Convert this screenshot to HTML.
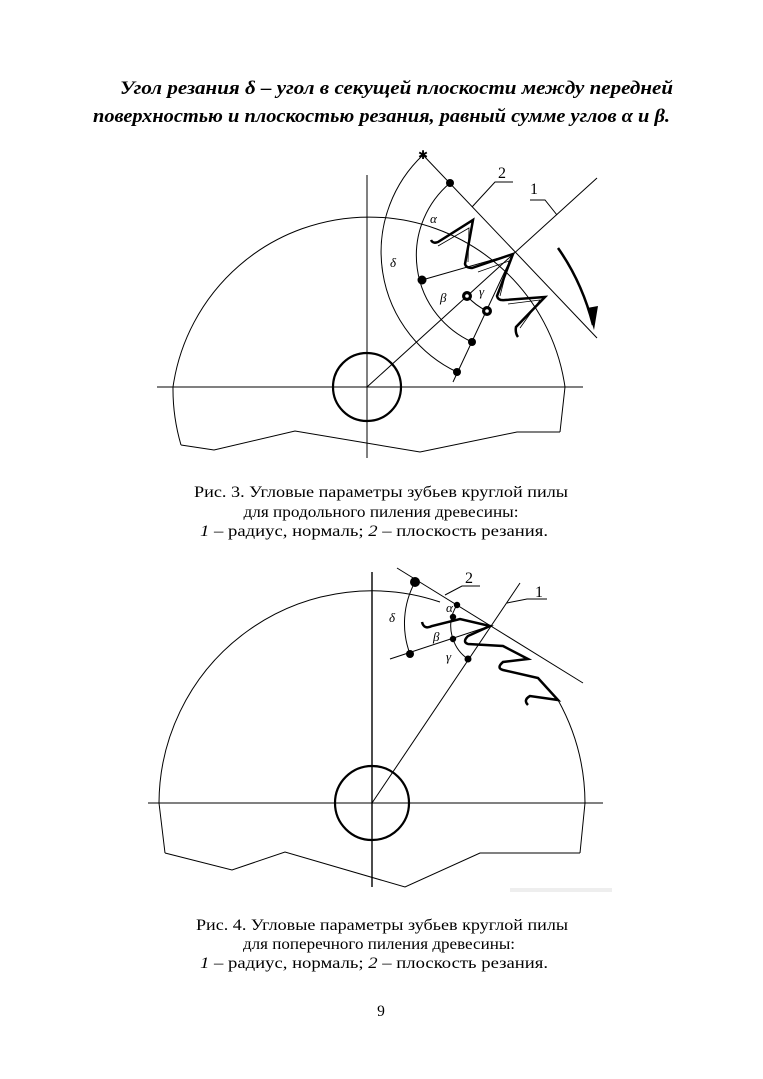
<!DOCTYPE html>
<html><head><meta charset="utf-8"><style>
html,body{margin:0;padding:0;background:#fff;}
svg{display:block}
.t{font-family:"Liberation Serif",serif;fill:#000}
</style></head><body>
<svg width="763" height="1079" viewBox="0 0 763 1079" xmlns="http://www.w3.org/2000/svg">
<g class="t" font-weight="bold" font-style="italic" font-size="19">
<text x="120" y="94" textLength="553" lengthAdjust="spacingAndGlyphs">Угол резания δ – угол в секущей плоскости между передней</text>
<text x="93" y="122" textLength="577" lengthAdjust="spacingAndGlyphs">поверхностью и плоскостью резания, равный сумме углов α и β.</text>
</g>

<!-- Fig 3 -->
<g fill="none" stroke="#000" stroke-width="1">
<line x1="367" y1="175" x2="367" y2="458"/>
<line x1="157" y1="387" x2="583" y2="387"/>
<circle cx="367" cy="387" r="34" stroke-width="2.2"/>
<path d="M181,445 A198,198 0 0 1 173,387 A198,198 0 0 1 565,387 L560,432"/>
<path d="M181,445 L214,450 L295,431 L420,452 L517,432 L560,432"/>
<line x1="367" y1="387" x2="597" y2="178"/>
<line x1="423" y1="155" x2="597" y2="338"/>
<path d="M530,200 L545,200 L557,215"/>
<path d="M513,182 L495,182 L472,207"/>
<path d="M423,155 A133,133 0 0 0 457,372"/>
<path d="M450,183 A95,95 0 0 0 472,342"/>
<path d="M467,296 A62,62 0 0 0 487,311"/>
<line x1="422" y1="280" x2="513" y2="254"/>
<line x1="453" y1="382" x2="513" y2="254"/>
<path d="M558,248 Q582,282 593,325" stroke-width="2.5"/>
</g>
<path d="M587,308 L594,330 L598,306 Z" fill="#000"/>
<g fill="none" stroke="#000" stroke-width="2.5" stroke-linejoin="miter">
<path d="M431,240 Q433,244 438,242 L473,220 L465,264 Q466,268 472,268 L513,254 L497,296 Q498,301 505,300 L545,297 L516,327 Q515,333 518,337"/>
</g>
<g fill="none" stroke="#000" stroke-width="0.8">
<path d="M438,246 L469,228 L468,262 M478,272 L509,261 L500,296 M508,304 L540,300 L520,328"/>
</g>
<g fill="#000">
<circle cx="450" cy="183" r="4"/><circle cx="422" cy="280" r="4.5"/>
<circle cx="472" cy="342" r="4"/><circle cx="457" cy="372" r="4"/>
<circle cx="467" cy="296" r="5"/><circle cx="487" cy="311" r="5"/>
<text x="418" y="159" font-size="12" font-family="DejaVu Sans">✱</text>
</g>
<circle cx="467" cy="296" r="1.8" fill="#fff"/><circle cx="487" cy="311" r="1.8" fill="#fff"/>
<g class="t" font-size="16">
<text x="498" y="178">2</text><text x="530" y="194">1</text>
</g>
<g class="t" font-size="13" font-style="italic">
<text x="430" y="223">α</text><text x="390" y="267">δ</text>
<text x="440" y="302">β</text><text x="479" y="296">γ</text>
</g>
<g class="t" font-size="15.5" text-anchor="middle">
<text x="381" y="497" textLength="374" lengthAdjust="spacingAndGlyphs">Рис. 3. Угловые параметры зубьев круглой пилы</text>
<text x="381" y="517" textLength="275" lengthAdjust="spacingAndGlyphs">для продольного пиления древесины:</text>
<text x="374" y="536" textLength="348" lengthAdjust="spacingAndGlyphs"><tspan font-style="italic">1</tspan> – радиус, нормаль; <tspan font-style="italic">2</tspan> – плоскость резания.</text>
</g>

<!-- Fig 4 -->
<g fill="none" stroke="#000" stroke-width="1">
<line x1="372" y1="572" x2="372" y2="887" stroke-width="1.4"/>
<line x1="148" y1="803" x2="603" y2="803"/>
<circle cx="372" cy="803" r="37" stroke-width="2.2"/>
<path d="M165,853 L159,803 A213,213 0 0 1 440,602"/>
<path d="M558,700 A213,213 0 0 1 585,803 L580,853"/>
<path d="M165,853 L232,870 L285,852 L405,887 L480,853 L580,853"/>
<line x1="372" y1="803" x2="520" y2="583"/>
<line x1="397" y1="568" x2="583" y2="683"/>
<path d="M507,603 L527,599 L547,599"/>
<path d="M445,595 L462,586 L480,586"/>
<path d="M415,582 A87,87 0 0 0 410,654"/>
<line x1="390" y1="659" x2="490" y2="626"/>
<path d="M457,605 A38,38 0 0 0 453,639"/>
<path d="M453,639 A38,38 0 0 0 468,659"/>
</g>
<g fill="none" stroke="#000" stroke-width="2.5">
<path d="M422,622 Q424,630 432,626 L460,619 L490,626 L468,636 Q462,642 468,644 L503,646 L528,659 L503,662 Q496,668 503,670 L538,678 L558,700 L530,696 Q523,700 528,705"/>
</g>
<g fill="#000">
<circle cx="415" cy="582" r="5"/><circle cx="457" cy="605" r="3.2"/>
<circle cx="453" cy="617" r="3.2"/><circle cx="453" cy="639" r="3.2"/>
<circle cx="468" cy="659" r="3.5"/><circle cx="410" cy="654" r="4"/>
</g>
<g class="t" font-size="16">
<text x="465" y="583">2</text><text x="535" y="597">1</text>
</g>
<g class="t" font-size="13" font-style="italic">
<text x="446" y="612">α</text><text x="389" y="622">δ</text>
<text x="433" y="641">β</text><text x="446" y="661">γ</text>
</g>
<rect x="510" y="888" width="102" height="4" fill="#eee"/>
<g class="t" font-size="15.5" text-anchor="middle">
<text x="382" y="930" textLength="372" lengthAdjust="spacingAndGlyphs">Рис. 4. Угловые параметры зубьев круглой пилы</text>
<text x="379" y="949" textLength="272" lengthAdjust="spacingAndGlyphs">для поперечного пиления древесины:</text>
<text x="374" y="968" textLength="348" lengthAdjust="spacingAndGlyphs"><tspan font-style="italic">1</tspan> – радиус, нормаль; <tspan font-style="italic">2</tspan> – плоскость резания.</text>
<text x="381" y="1016">9</text>
</g>
</svg>
</body></html>
